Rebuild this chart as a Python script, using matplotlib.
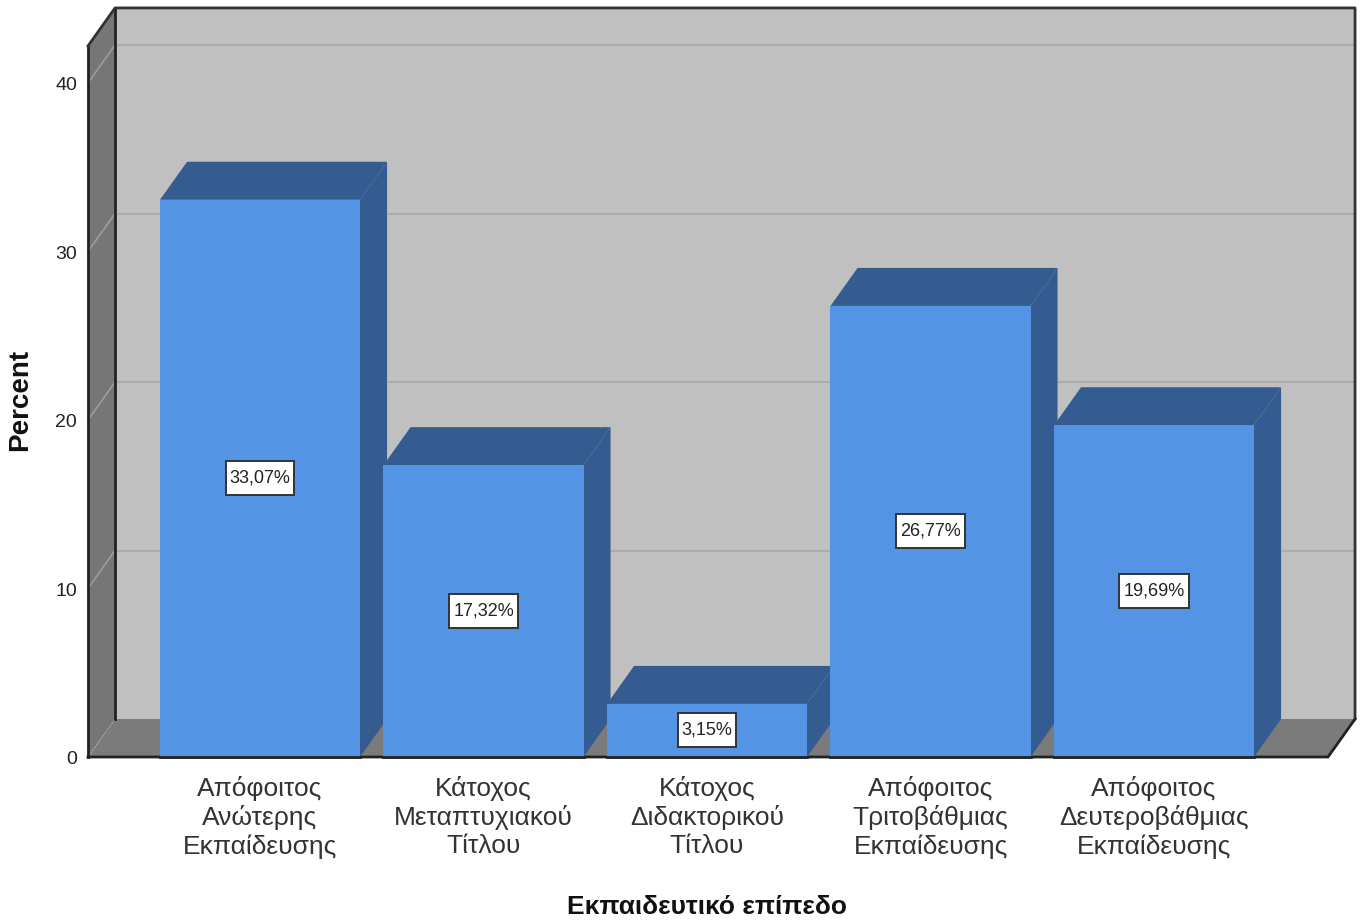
import matplotlib
matplotlib.use("Agg")
import matplotlib.pyplot as plt
from matplotlib.patches import Polygon, Rectangle

plt.rcParams['font.family'] = ['Liberation Sans', 'DejaVu Sans']

# education level data (percent)
categories = ["Απόφοιτος\nΑνώτερης\nΕκπαίδευσης",
              "Κάτοχος\nΜεταπτυχιακού\nΤίτλου",
              "Κάτοχος\nΔιδακτορικού\nΤίτλου",
              "Απόφοιτος\nΤριτοβάθμιας\nΕκπαίδευσης",
              "Απόφοιτος\nΔευτεροβάθμιας\nΕκπαίδευσης"]
percent = [33.07, 17.32, 3.15, 26.77, 19.69]
value_labels = ["33,07%", "17,32%", "3,15%", "26,77%", "19,69%"]
yticks = [0, 10, 20, 30, 40]

# colours
front_col = "#5494e4"
side_col = "#355c90"
wall_col = "#c0c0c0"
side_wall_col = "#767676"
floor_col = "#7b7b7b"
grid_col = "#acacac"

# geometry (category units on x, percent on y)
bar_w = 0.895
DX, DY = 0.121, 2.255        # depth offset of the 3d box
x_left, x_right = -0.7696, 4.7785
wall_top = 42.2

fig = plt.figure(figsize=(13.62, 9.22), dpi=100)
ax = fig.add_axes([0, 0, 1, 1])
ax.set_xlim(-1.1633, 4.9306)
ax.set_ylim(-9.792, 44.926)
ax.axis("off")


def poly(pts, fc, ec="none", lw=0, z=1):
    ax.add_patch(Polygon(pts, closed=True, fc=fc, ec=ec, lw=lw, zorder=z))


# back wall, left wall and floor
poly([(x_left + DX, DY), (x_right + DX, DY), (x_right + DX, wall_top + DY),
      (x_left + DX, wall_top + DY)], wall_col, z=1)
poly([(x_left, 0), (x_left + DX, DY), (x_left + DX, wall_top + DY),
      (x_left, wall_top)], side_wall_col, z=1)
poly([(x_left, 0), (x_right, 0), (x_right + DX, DY), (x_left + DX, DY)],
     floor_col, z=1)

# gridlines on back and left walls
for t in yticks[1:]:
    ax.plot([x_left + DX, x_right + DX], [t + DY, t + DY], color=grid_col, lw=1.5, zorder=2)
    ax.plot([x_left, x_left + DX], [t, t + DY], color="#9c9c9c", lw=1.2, zorder=2)
ax.plot([x_left, x_left + DX], [0, DY], color="#a0a0a0", lw=1, ls=":", zorder=2)

# box edges
edge = dict(color="#222222", lw=2, zorder=3, solid_capstyle="projecting")
ax.plot([x_left + DX, x_left + DX], [DY, wall_top + DY], **edge)
ax.plot([x_left, x_left], [0, wall_top], **edge)
ax.plot([x_left, x_left + DX, x_right + DX, x_right + DX],
        [wall_top, wall_top + DY, wall_top + DY, DY], color="#333333", lw=2, zorder=3)
ax.plot([x_left, x_right, x_right + DX], [0, 0, DY], **edge)

# 3d bars
labels = []
for i, v in enumerate(percent):
    x0, x1 = i - bar_w / 2, i + bar_w / 2
    poly([(x1, 0), (x1 + DX, DY), (x1 + DX, v + DY), (x1, v)], side_col, z=4)
    poly([(x0, v), (x1, v), (x1 + DX, v + DY), (x0 + DX, v + DY)], side_col, z=4)
    poly([(x0, 0), (x1, 0), (x1, v), (x0, v)], front_col, z=4)
    ax.plot([x0, x1], [0, 0], color="#222222", lw=2, zorder=5)
    labels.append(ax.text(i, v / 2, value_labels[i], ha="center", va="center",
                          fontsize=13, color="#222222", zorder=7))

# white label boxes sized around the text
fig.canvas.draw()
r = fig.canvas.get_renderer()
for t in labels:
    bb = t.get_window_extent(r)
    cx, cy = (bb.x0 + bb.x1) / 2, (bb.y0 + bb.y1) / 2
    w, h = bb.width + 8, 34
    ax.add_patch(Rectangle((cx - w / 2, cy - h / 2), w, h, transform=None,
                           fc="white", ec="#333333", lw=1.4, zorder=6))

# axis labels
for t in yticks:
    ax.text(-0.818, t - 0.15, str(t), ha="right", va="center", fontsize=14, color="#222222")
for i, c in enumerate(categories):
    ax.text(i, -1.15, c, ha="center", va="top", fontsize=19, color="#333333",
            linespacing=1.2)
ax.text(-1.074, 21.2, "Percent", rotation=90, ha="center", va="center",
        fontsize=20, fontweight="bold", color="#111111")
ax.text(2.0, -8.9, "Εκπαιδευτικό επίπεδο", ha="center", va="center",
        fontsize=19, fontweight="bold", color="#111111")

fig.savefig("out.png", dpi=100)
